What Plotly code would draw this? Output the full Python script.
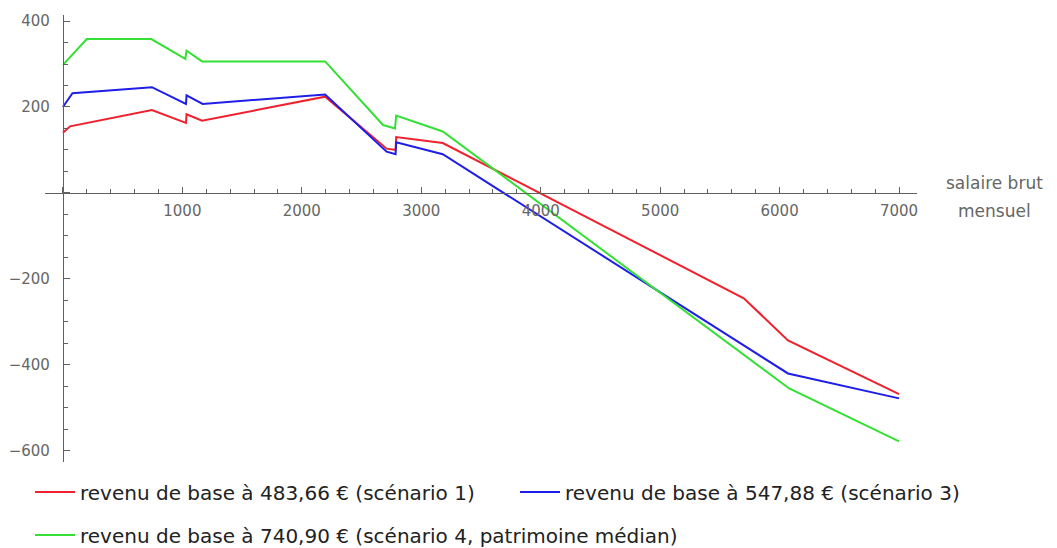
import plotly.graph_objects as go

# ---- data ----
red_x = [0, 60, 745, 1030, 1035, 1165, 2195, 2710, 2785, 2790, 3180, 5700, 6070, 7000]
red_y = [140, 155, 193, 163, 183, 168, 224, 103, 100, 130, 116, -245, -343, -468]

blue_x = [0, 80, 745, 1030, 1035, 1170, 2195, 2710, 2785, 2790, 3180, 6070, 7000]
blue_y = [200, 232, 246, 207, 227, 207, 229, 96, 90, 118, 90, -420, -478]

green_x = [0, 200, 740, 1025, 1035, 1165, 2195, 2680, 2780, 2790, 3180, 6080, 7000]
green_y = [298, 358, 358, 312, 331, 306, 306, 158, 150, 180, 143, -455, -578]

names = [
    "revenu de base à 483,66 € (scénario 1)",
    "revenu de base à 547,88 € (scénario 3)",
    "revenu de base à 740,90 € (scénario 4, patrimoine médian)",
]
colors = ["#f0202c", "#1e1ee8", "#33e033"]

x_ticks = [0, 1000, 2000, 3000, 4000, 5000, 6000, 7000]
x_ticktext = ["", "1000", "2000", "3000", "4000", "5000", "6000", "7000"]
y_ticks = [-600, -400, -200, 0, 200, 400]
y_ticktext = ["\u2212600", "\u2212400", "\u2212200", "", "200", "400"]

x_range = [-150, 7150]
y_range = [-626, 414]

# page body has an 8px margin: figure is drawn offset by 8px
OFF = 8
W, H = 1057 - OFF, 548 - OFF
L, T = 45 - OFF, 15 - OFF
R = W - (917 - OFF)
B = H - (462 - OFF)
pw, ph = W - L - R, H - T - B


def px_x(p):
    return (p - OFF - L) / pw


def px_y(p):
    return (H - B - (p - OFF)) / ph


fig = go.Figure()
fig.add_trace(go.Scatter(x=red_x, y=red_y, mode="lines", name=names[0],
                         line=dict(color=colors[0], width=2), legend="legend"))
fig.add_trace(go.Scatter(x=blue_x, y=blue_y, mode="lines", name=names[1],
                         line=dict(color=colors[1], width=2), legend="legend2"))
fig.add_trace(go.Scatter(x=green_x, y=green_y, mode="lines", name=names[2],
                         line=dict(color=colors[2], width=2), legend="legend3"))

axis_col = "#606060"
tick_font = dict(family="DejaVu Sans", size=15, color="#666666")
leg_font = dict(family="DejaVu Sans", size=20, color="#222222")

fig.update_layout(
    width=W, height=H,
    margin=dict(l=L, r=R, t=T, b=B, autoexpand=False),
    paper_bgcolor="white", plot_bgcolor="white",
    xaxis=dict(
        range=x_range, domain=[0, 1], anchor="free",
        position=(0 - y_range[0]) / (y_range[1] - y_range[0]),
        showgrid=False, zeroline=False, showline=True, linecolor=axis_col, linewidth=1,
        tickmode="array", tickvals=x_ticks, ticktext=x_ticktext,
        ticks="inside", ticklen=6, tickcolor=axis_col, tickfont=tick_font,
        minor=dict(tickmode="linear", tick0=0, dtick=200, ticks="inside",
                   ticklen=4, tickcolor=axis_col),
        ticklabelstandoff=4,
    ),
    yaxis=dict(
        range=y_range, domain=[0, 1], anchor="free",
        position=(0 - x_range[0]) / (x_range[1] - x_range[0]),
        showgrid=False, zeroline=False, showline=True, linecolor=axis_col, linewidth=1,
        tickmode="array", tickvals=y_ticks, ticktext=y_ticktext,
        ticks="inside", ticklen=6, tickcolor=axis_col, tickfont=tick_font,
        minor=dict(tickmode="linear", tick0=0, dtick=50, ticks="inside",
                   ticklen=4, tickcolor=axis_col),
        ticklabelstandoff=10,
    ),
    legend=dict(x=px_x(30), xanchor="left", y=px_y(492), yanchor="middle",
                font=leg_font, bgcolor="rgba(0,0,0,0)", itemwidth=40),
    legend2=dict(x=px_x(515), xanchor="left", y=px_y(492), yanchor="middle",
                 font=leg_font, bgcolor="rgba(0,0,0,0)", itemwidth=40),
    legend3=dict(x=px_x(30), xanchor="left", y=px_y(535), yanchor="middle",
                 font=leg_font, bgcolor="rgba(0,0,0,0)", itemwidth=40),
    showlegend=True,
)

ann_font = dict(family="DejaVu Sans", size=17, color="#666666")
fig.add_annotation(text="salaire brut", xref="paper", yref="paper",
                   x=px_x(994), y=px_y(183), showarrow=False,
                   xanchor="center", yanchor="middle", font=ann_font)
fig.add_annotation(text="mensuel", xref="paper", yref="paper",
                   x=px_x(994), y=px_y(211), showarrow=False,
                   xanchor="center", yanchor="middle", font=ann_font)

fig.write_html("out.html")
